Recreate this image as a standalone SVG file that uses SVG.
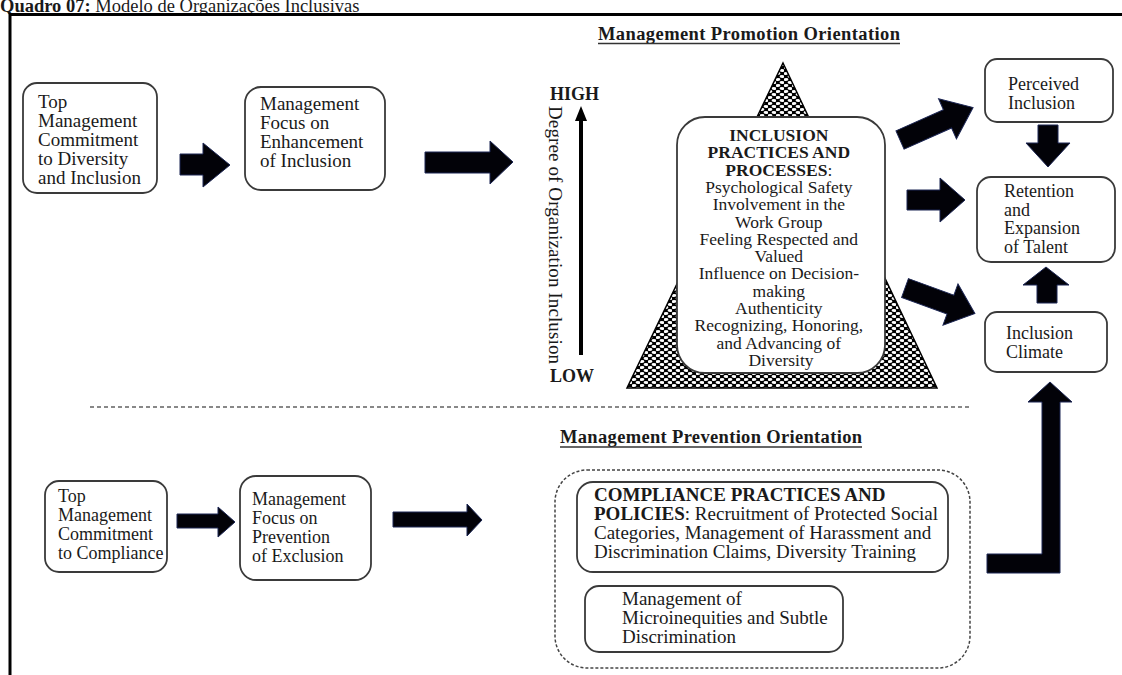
<svg xmlns="http://www.w3.org/2000/svg" width="1122" height="675" viewBox="0 0 1122 675">
<style>
text{font-family:"Liberation Serif","Times New Roman",serif;fill:#1a1a1a}
.t19{font-size:19px}
.t18{font-size:18px}
.t17{font-size:17.5px}
.b{font-weight:bold}
.box{fill:#fff;stroke:#3a3a3a;stroke-width:1.8}
.arr{fill:#020208;stroke:#1c2654;stroke-width:1}
.ul{stroke:#333;stroke-width:1.5}
</style>
<defs>
<pattern id="dots" width="8" height="6" patternUnits="userSpaceOnUse">
<rect width="8" height="6" fill="#000"/>
<ellipse cx="2" cy="1.5" rx="2.4" ry="1.45" fill="#fff"/>
<ellipse cx="6" cy="4.5" rx="2.4" ry="1.45" fill="#fff"/>
</pattern>
<polygon id="diag" points="0,-10 52,-10 52,-22 80,0 52,22 52,10 0,10"/>
</defs>
<rect width="1122" height="675" fill="#fff"/>
<text x="0" y="12" font-size="18.5"><tspan class="b">Quadro 07:</tspan> Modelo de Organizações Inclusivas</text>
<path d="M10,675 V14.5 H1122" fill="none" stroke="#000" stroke-width="3"/>

<g id="heading-promotion">
<text x="598" y="40" class="b" font-size="18.5" textLength="302">Management Promotion Orientation</text>
<line x1="598" y1="43.5" x2="900" y2="43.5" class="ul"/>
</g>
<g id="heading-prevention">
<text x="560" y="443" class="b" font-size="18.5" textLength="302">Management Prevention Orientation</text>
<line x1="560" y1="447" x2="862" y2="447" class="ul"/>
</g>

<g id="top-commitment-diversity">
<rect x="23" y="83" width="134" height="110" rx="14" class="box"/>
<text class="t19"><tspan x="38" y="108">Top</tspan><tspan x="38" y="127">Management</tspan><tspan x="38" y="146">Commitment</tspan><tspan x="38" y="165">to Diversity</tspan><tspan x="38" y="184">and Inclusion</tspan></text>
</g>
<g id="focus-enhancement">
<rect x="245" y="87" width="140" height="103" rx="16" class="box"/>
<text class="t19"><tspan x="260" y="110">Management</tspan><tspan x="260" y="129">Focus on</tspan><tspan x="260" y="148">Enhancement</tspan><tspan x="260" y="167">of Inclusion</tspan></text>
</g>

<g id="inclusion-scale">
<text x="550" y="100" class="b t18">HIGH</text>
<text x="550" y="382" class="b t18">LOW</text>
<line x1="581" y1="119" x2="581" y2="355" stroke="#000" stroke-width="4"/>
<polygon points="581,106 575,121 587,121" fill="#000"/>
<text transform="translate(549,106) rotate(90)" font-size="19" textLength="258">Degree of Organization Inclusion</text>
</g>

<g id="inclusion-practices">
<polygon points="783,63 937,388 627,388" fill="url(#dots)" stroke="#000" stroke-width="1.5"/>
<rect x="677" y="117" width="208" height="256" rx="28" class="box"/>
<text class="t17" text-anchor="middle">
<tspan x="781" y="141" class="b">INCLUSION</tspan>
<tspan x="781" y="158.3" class="b">PRACTICES AND</tspan>
<tspan x="781" y="175.6"><tspan class="b">PROCESSES</tspan>:</tspan>
<tspan x="781" y="192.9">Psychological Safety</tspan>
<tspan x="781" y="210.2">Involvement in the</tspan>
<tspan x="781" y="227.5">Work Group</tspan>
<tspan x="781" y="244.8">Feeling Respected and</tspan>
<tspan x="781" y="262.1">Valued</tspan>
<tspan x="781" y="279.4">Influence on Decision-</tspan>
<tspan x="781" y="296.7">making</tspan>
<tspan x="781" y="314">Authenticity</tspan>
<tspan x="781" y="331.3">Recognizing, Honoring,</tspan>
<tspan x="781" y="348.6">and Advancing of</tspan>
<tspan x="781" y="365.9">Diversity</tspan>
</text>
</g>

<g id="perceived-inclusion">
<rect x="985" y="59" width="128" height="63" rx="12" class="box"/>
<text class="t18"><tspan x="1008" y="90">Perceived</tspan><tspan x="1008" y="109">Inclusion</tspan></text>
</g>
<g id="retention-talent">
<rect x="977" y="177" width="138" height="85" rx="14" class="box"/>
<text class="t18"><tspan x="1004" y="197">Retention</tspan><tspan x="1004" y="215.5">and</tspan><tspan x="1004" y="234">Expansion</tspan><tspan x="1004" y="252.5">of Talent</tspan></text>
</g>
<g id="inclusion-climate">
<rect x="985" y="312" width="122" height="60" rx="12" class="box"/>
<text class="t18"><tspan x="1006" y="339">Inclusion</tspan><tspan x="1006" y="358">Climate</tspan></text>
</g>

<line x1="90" y1="407" x2="970" y2="407" stroke="#888" stroke-width="2" stroke-dasharray="4 3"/>

<g id="top-commitment-compliance">
<rect x="45" y="481" width="122" height="91" rx="14" class="box"/>
<text class="t18"><tspan x="58" y="502">Top</tspan><tspan x="58" y="521">Management</tspan><tspan x="58" y="540">Commitment</tspan><tspan x="58" y="559">to Compliance</tspan></text>
</g>
<g id="focus-prevention">
<rect x="240" y="476" width="131" height="104" rx="16" class="box"/>
<text class="t18"><tspan x="252" y="505">Management</tspan><tspan x="252" y="524">Focus on</tspan><tspan x="252" y="543">Prevention</tspan><tspan x="252" y="562">of Exclusion</tspan></text>
</g>
<g id="prevention-practices">
<rect x="555" y="470" width="415" height="198" rx="32" fill="none" stroke="#444" stroke-width="1.5" stroke-dasharray="3 2"/>
<g id="compliance-practices">
<rect x="577" y="482" width="371" height="90" rx="16" class="box"/>
<text class="t19"><tspan x="594" y="501" class="b">COMPLIANCE PRACTICES AND</tspan><tspan x="594" y="520"><tspan class="b">POLICIES</tspan>: Recruitment of Protected Social</tspan><tspan x="594" y="539">Categories, Management of Harassment and</tspan><tspan x="594" y="558">Discrimination Claims, Diversity Training</tspan></text>
</g>
<g id="microinequities">
<rect x="585" y="586" width="258" height="66" rx="14" class="box"/>
<text class="t19"><tspan x="622" y="605">Management of</tspan><tspan x="622" y="624">Microinequities and Subtle</tspan><tspan x="622" y="643">Discrimination</tspan></text>
</g>
</g>

<g id="connectors">
<polygon class="arr" points="180,154 203,154 203,143 230,165 203,187 203,175 180,175"/>
<polygon class="arr" points="425,152 490,152 490,141 513,162 490,184 490,173 425,173"/>
<use href="#diag" class="arr" transform="translate(900,140) rotate(-24)"/>
<polygon class="arr" points="907,190 940,190 940,178 965,200 940,222 940,210 907,210"/>
<use href="#diag" class="arr" transform="translate(905,288) rotate(20) scale(0.93,1)"/>
<polygon class="arr" points="1038,125 1058,125 1058,143 1070,143 1048,167 1026,143 1038,143"/>
<polygon class="arr" points="1037,303 1037,285 1023,285 1046,267 1069,285 1057,285 1057,303"/>
<polygon class="arr" points="987,554 1042,554 1042,402 1028,402 1050,382 1072,402 1060,402 1060,573 987,573"/>
<polygon class="arr" points="177,514 218,514 218,507 235,522 218,537 218,528 177,528"/>
<polygon class="arr" points="393,512 467,512 467,504 482,520 467,536 467,527 393,527"/>
</g>
</svg>
